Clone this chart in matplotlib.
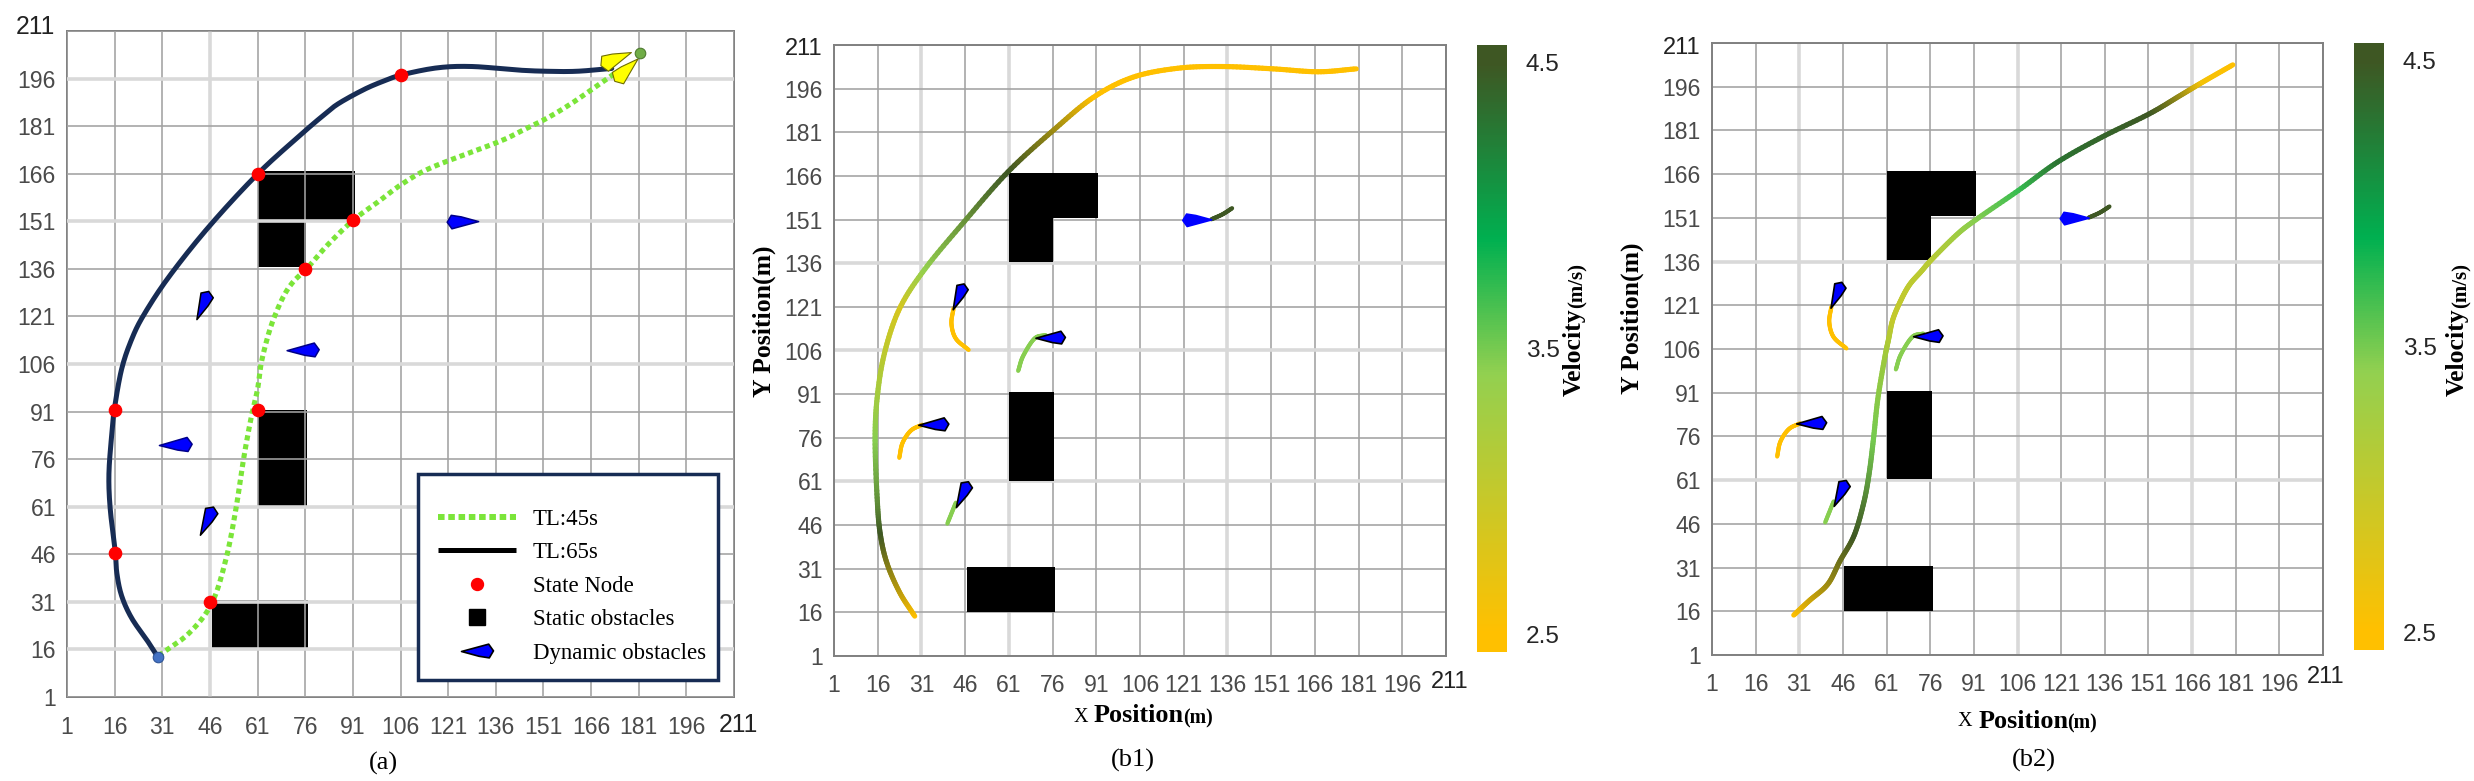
import numpy as np
import matplotlib
matplotlib.use("Agg")
import matplotlib.pyplot as plt
from matplotlib.collections import LineCollection
from matplotlib.colors import LinearSegmentedColormap, Normalize
from matplotlib.cm import ScalarMappable
from matplotlib.lines import Line2D
from matplotlib.patches import Polygon, Rectangle
from matplotlib.path import Path

W, H = 2474, 781
SANS, SERIF = "Liberation Sans", "Liberation Serif"

# ---------- data ----------
ticks = [1, 16, 31, 46, 61, 76, 91, 106, 121, 136, 151, 166, 181, 196, 211]

tl65_x = [29.8, 26.8, 21.4, 18.2, 16.7, 16.2, 14.6, 14.2, 15.1, 15.9, 18.2, 21.4, 25.3, 33.1, 45.6, 61.1, 75.4, 81.6, 86.3, 94.2, 100.4, 106.5, 117.7, 128.6, 142.7, 152.1, 161.5, 172.5]
tl65_y = [13.3, 18.0, 25.8, 32.9, 40.0, 46.7, 60.4, 71.4, 84.0, 91.7, 104.4, 113.9, 121.7, 133.5, 149.2, 166.0, 179.0, 184.3, 188.0, 192.4, 195.1, 197.2, 199.4, 199.8, 198.7, 198.3, 198.3, 199.2]
tl45_x = [29.8, 39.4, 46.6, 51.1, 54.2, 56.6, 58.9, 61.0, 62.1, 64.0, 66.0, 69.1, 72.2, 76.6, 83.2, 91.2, 98.9, 106.7, 116.1, 136.5, 144.3, 152.1, 159.9, 167.8, 174.0]
tl45_y = [14.0, 21.1, 30.6, 44.7, 60.4, 76.1, 88.7, 98.1, 106.0, 113.9, 120.1, 127.2, 131.9, 136.2, 143.7, 151.4, 157.1, 162.9, 168.1, 175.9, 179.6, 183.5, 188.2, 193.7, 198.0]
node_x = [16, 16, 61, 106, 46, 61, 76, 91]
node_y = [46.5, 91.5, 166, 197, 31, 91.5, 136, 151.5]
start_xy = (29.8, 13.5)
goal_xy = (181.4, 204)

static_x = [46.5, 61.2, 61.0, 61.0]
static_y = [16.0, 61.3, 151.5, 136.5]
static_w = [30.3, 15.4, 30.6, 15.3]
static_h = [15.5, 30.3, 15.5, 15.0]

# dynamic obstacles: tail point and head point
dyn_tail_x = [41.9, 70.3, 130.6, 30.1, 43.0]
dyn_tail_y = [120.0, 110.2, 150.9, 80.3, 52.0]
dyn_head_x = [45.8, 80.4, 120.7, 40.4, 47.3]
dyn_head_y = [128.8, 110.3, 150.9, 80.5, 60.8]
arrow_tail_x = [178.7, 180.8]
arrow_tail_y = [204.2, 202.2]
arrow_head_x = [169.0, 173.3]
arrow_head_y = [200.3, 195.3]

trail_xs = [[47.2, 42.8, 41.3, 42.0], [64.2, 65.9, 69.8, 73.6], [137.6, 134.3, 130.5], [23.4, 24.5, 27.4, 31.3], [39.9, 42.8]]
trail_ys = [[106.2, 110.1, 115.2, 120.4], [99.0, 104.1, 110.1, 111.3], [154.9, 152.8, 151.1], [69.1, 74.2, 78.5, 80.5], [46.5, 53.7]]
trail_v = [2.5, 3.45, 4.5, 2.5, 3.45]

b1_x = [28.7, 23.5, 19.1, 16.8, 15.8, 15.1, 15.8, 18.3, 23.5, 32.2, 45.7, 60.7, 76.5, 90.0, 103.5, 118.9, 134.3, 151.7, 167.1, 180.2]
b1_y = [14.7, 22.9, 33.1, 43.4, 55.4, 75.0, 89.6, 105.0, 120.4, 134.0, 150.3, 167.4, 181.9, 193.0, 199.9, 203.0, 203.6, 202.8, 201.8, 202.8]
b1_v_at = [0, 3, 5, 8, 9, 11, 13, 19]
b1_v = [2.5, 4.5, 3.45, 2.85, 3.4, 4.5, 2.5, 2.5]

b2_x = [29.1, 34.5, 40.8, 45.0, 49.8, 53.1, 55.0, 56.5, 58.0, 60.3, 61.7, 63.2, 66.1, 69.0, 72.8, 76.6, 85.2, 91.9, 106.3, 119.7, 135.0, 151.3, 161.8, 169.5, 180.0]
b2_y = [14.7, 19.7, 25.3, 33.3, 41.9, 53.0, 63.2, 75.2, 88.9, 102.6, 109.4, 116.3, 123.1, 128.2, 132.5, 136.8, 145.3, 150.5, 160.4, 170.1, 178.7, 186.7, 192.9, 197.5, 203.5]
b2_v_at = [0, 4, 7, 11, 15, 17, 18, 19, 21, 23, 24]
b2_v = [2.5, 4.5, 3.5, 3.0, 3.1, 3.45, 3.7, 4.3, 4.5, 2.6, 2.5]

cbar_ticks = [2.5, 3.5, 4.5]
v_min, v_max = 2.437, 4.563

# ---------- styles ----------
cmap = LinearSegmentedColormap.from_list("speed", [(0, "#FFC000"), (0.03, "#FFC000"), (0.458, "#92D050"), (0.68, "#00B050"), (0.97, "#3E5723"), (1, "#3E5723")])
norm = Normalize(v_min, v_max)
NAVY, GREEN = "#172C54", "#7BE539"
KITE = np.array([[0, 0], [0.85, 0.23], [1, 0.02], [0.87, -0.2], [0.55, -0.15]])


def fx(px): return px / W
def fy(py): return 1 - py / H


def new_axes(l, t, r, b, faint_x, faint_y, pad, grid_z):
    ax = fig.add_axes([fx(l), fy(b), (r - l) / W, (b - t) / H])
    ax.set_xlim(1, 211)
    ax.set_ylim(1, 211)
    ax.set_xticks(ticks)
    ax.set_yticks(ticks)
    ax.set_xticklabels([str(v) for v in ticks[:-1]] + [""], fontfamily=SANS, fontsize=16.6, color="#4A4A4A")
    ax.set_yticklabels([str(v) for v in ticks[:-1]] + [""], fontfamily=SANS, fontsize=16.6, color="#4A4A4A")
    ax.tick_params(axis="x", length=0, pad=pad)
    ax.tick_params(axis="y", length=0, pad=8)
    ax.grid(True, color="#A2A2A2", lw=1.15, zorder=grid_z)
    ax.set_axisbelow(grid_z < 1)
    for tick, v in zip(ax.xaxis.get_major_ticks(), ticks):
        if v in faint_x:
            tick.gridline.set(color="#D9D9D9", lw=2.6)
    for tick, v in zip(ax.yaxis.get_major_ticks(), ticks):
        if v in faint_y:
            tick.gridline.set(color="#D9D9D9", lw=2.6)
    for s in ax.spines.values():
        s.set_color("#808080")
        s.set_linewidth(1.4)
    return ax


def px_text(x, y, s, **kw):
    kw.setdefault("ha", "center")
    kw.setdefault("va", "center")
    return fig.text(fx(x), fy(y), s, **kw)


def smooth(xs, ys, n=14):
    # Catmull-Rom drawing of the line through the read points
    p = np.column_stack([xs, ys]).astype(float)
    q = np.vstack([2 * p[0] - p[1], p, 2 * p[-1] - p[-2]])
    out, par = [], []
    for i in range(len(p) - 1):
        p0, p1, p2, p3 = q[i], q[i + 1], q[i + 2], q[i + 3]
        for u in np.linspace(0, 1, n, endpoint=False):
            out.append(0.5 * (2 * p1 + (p2 - p0) * u + (2 * p0 - 5 * p1 + 4 * p2 - p3) * u ** 2 + (3 * p1 - p0 - 3 * p2 + p3) * u ** 3))
            par.append(i + u)
    out.append(p[-1])
    par.append(len(p) - 1)
    return np.array(out), np.array(par)


def speed_line(ax, xs, ys, at, vals, lw, z=4):
    pts, par = smooth(xs, ys)
    key = np.array(cmap(norm(vals)))[:, :3]
    rgb = np.column_stack([np.interp(par, at, key[:, c]) for c in range(3)])
    segs = np.stack([pts[:-1], pts[1:]], axis=1)
    ax.add_collection(LineCollection(segs, colors=rgb[:-1], linewidths=lw, capstyle="round", zorder=z))


def kite(ax, tx, ty, hx, hy, face, edge, lw, fat=1.0):
    # work in pixels so that the shape is not sheared by the axes' aspect
    a = ax.transData.transform([[tx, ty], [hx, hy]])
    v = a[1] - a[0]
    n = np.array([-v[1], v[0]])
    poly = a[0] + KITE[:, 0:1] * v + fat * KITE[:, 1:2] * n
    ax.add_patch(Polygon(poly, closed=True, transform=None, facecolor=face, edgecolor=edge, lw=lw, joinstyle="round", zorder=6))


def statics(ax):
    for x, y, w, h in zip(static_x, static_y, static_w, static_h):
        ax.add_patch(Rectangle((x, y), w, h, facecolor="black", edgecolor="none", zorder=1))


def corner_labels(xt, yt, size=17):
    px_text(xt[0], xt[1], "211", fontfamily=SANS, fontsize=size, color="#222222")
    px_text(yt[0], yt[1], "211", fontfamily=SANS, fontsize=size, color="#222222", ha="right")


def speed_panel(l, t, r, b, cb_l, cb_t, cb_r, cb_b, main_x, main_y, at, vals, faint_x, faint_y,
                x211, y211, ylab_x, ylab_y, xparts, xlab_y, vel_x, vel_sub_x, caption):
    ax = new_axes(l, t, r, b, faint_x, faint_y, 13, 0.5)
    statics(ax)
    speed_line(ax, main_x, main_y, at, vals, 3.7)
    for xs, ys, v in zip(trail_xs, trail_ys, trail_v):
        speed_line(ax, xs, ys, [0, len(xs) - 1], [v, v], 3.0)
    for i, (tx, ty, hx, hy) in enumerate(zip(dyn_tail_x, dyn_tail_y, dyn_head_x, dyn_head_y)):
        kite(ax, tx, ty, hx, hy, "#0000FF", "#0000FF" if i == 2 else "black", 1.2)
    corner_labels(x211, y211)
    px_text(ylab_x, ylab_y, "Y Position(m)", fontfamily=SERIF, fontweight="bold", fontsize=18.5, rotation=90)
    px_text(xparts[0], xlab_y + 1, "X", fontfamily=SERIF, fontsize=14.5)
    px_text(xparts[1], xlab_y, "Position", fontfamily=SERIF, fontweight="bold", fontsize=18.8)
    px_text(xparts[2], xlab_y + 2, "(m)", fontfamily=SERIF, fontweight="bold", fontsize=14.4)
    px_text(vel_x, 352, "Velocity", fontfamily=SERIF, fontweight="bold", fontsize=18.5, rotation=90)
    px_text(vel_sub_x, 285, "(m/s)", fontfamily=SERIF, fontweight="bold", fontsize=15, rotation=90)
    px_text(caption[0], caption[1], caption[2], fontfamily=SERIF, fontsize=19)
    cax = fig.add_axes([fx(cb_l), fy(cb_b), (cb_r - cb_l) / W, (cb_b - cb_t) / H])
    cb = fig.colorbar(ScalarMappable(norm=norm, cmap=cmap), cax=cax)
    cb.set_ticks(cbar_ticks)
    cb.set_ticklabels([f"{v:.1f}" for v in cbar_ticks], fontfamily=SANS, fontsize=17.6, color="#262626")
    cb.ax.tick_params(length=0, pad=13.5)
    cb.outline.set_visible(False)
    return ax


fig = plt.figure(figsize=(W / 100, H / 100), dpi=100, facecolor="white")

# ---------- panel (a) ----------
ax = new_axes(67, 31, 734, 697, [46], [16, 31, 61, 106, 151, 196], 14, 2)
statics(ax)
p45, _ = smooth(tl45_x, tl45_y)
p65, _ = smooth(tl65_x, tl65_y)
ax.plot(p45[:, 0], p45[:, 1], color=GREEN, lw=3.7, ls=(0, (1.0, 0.75)), dash_capstyle="butt", zorder=3)
ax.plot(p65[:, 0], p65[:, 1], color=NAVY, lw=3.6, solid_capstyle="round", zorder=4)
ax.plot(node_x, node_y, ls="none", marker="o", ms=8.8, color="#FF0000", mec="#FF0000", zorder=5)
ax.plot(*start_xy, marker="o", ms=7.6, color="#4472C4", mec="#2F5597", mew=0.8, zorder=5, clip_on=False)
ax.plot(*goal_xy, marker="o", ms=7.6, color="#70AD47", mec="#4E7A30", mew=0.8, zorder=7, clip_on=False)
for i, (tx, ty, hx, hy) in enumerate(zip(dyn_tail_x, dyn_tail_y, dyn_head_x, dyn_head_y)):
    kite(ax, tx, ty, hx, hy, "#0000FF", "black" if i in (0, 4) else "#000088", 1.1)
for tx, ty, hx, hy in zip(arrow_tail_x, arrow_tail_y, arrow_head_x, arrow_head_y):
    kite(ax, tx, ty, hx, hy, "#FFFF00", "#6E6E00", 0.8, fat=1.15)
corner_labels((738, 725), (55, 27), 17.8)
px_text(383, 763, "(a)", fontfamily=SERIF, fontsize=19)

ax.add_patch(Rectangle((fx(418), fy(680)), 300 / W, 206 / H, transform=fig.transFigure, facecolor="white",
                       edgecolor=NAVY, lw=2.5, zorder=8, clip_on=False))
kite_marker = Path(np.vstack([KITE - [0.5, 0], KITE[0] - [0.5, 0]]), closed=True)
handles = [
    Line2D([], [], color=GREEN, lw=4.3, ls=(0, (1.1, 0.62)), dash_capstyle="butt"),
    Line2D([], [], color="black", lw=3.6, solid_capstyle="butt"),
    Line2D([], [], ls="none", marker="o", ms=8.6, color="#FF0000"),
    Line2D([], [], ls="none", marker="s", ms=11.5, color="black"),
    Line2D([], [], ls="none", marker=kite_marker, ms=23, mfc="#0000FF", mec="black", mew=1.2),
]
labels = ["TL:45s", "TL:65s", "State Node", "Static obstacles", "Dynamic obstacles"]
leg = ax.legend(handles, labels, loc="upper left", bbox_to_anchor=(fx(434), fy(505)), bbox_transform=fig.transFigure,
                frameon=False, prop={"family": SERIF, "size": 16.4}, handlelength=3.44, handletextpad=0.72,
                labelspacing=0.55, numpoints=1, borderpad=0.17, borderaxespad=0)
leg.set_zorder(9)

# ---------- panels (b1), (b2) ----------
speed_panel(834, 45, 1446, 656, 1477, 45, 1507, 652, b1_x, b1_y, b1_v_at, b1_v, [31, 61, 136], [61, 106, 136],
            (1450, 682), (823, 49), 764, 321, (1081, 1139, 1198), 716, 1574, 1578, (1133, 760, "(b1)"))
speed_panel(1712, 43, 2323, 655, 2354, 43, 2384, 650, b2_x, b2_y, b2_v_at, b2_v, [31, 106, 166], [61, 136],
            (2326, 677), (1701, 48), 1632, 318, (1965, 2024, 2082), 721, 2457, 2462, (2034, 760, "(b2)"))

fig.savefig("out.png", dpi=100, facecolor="white")
